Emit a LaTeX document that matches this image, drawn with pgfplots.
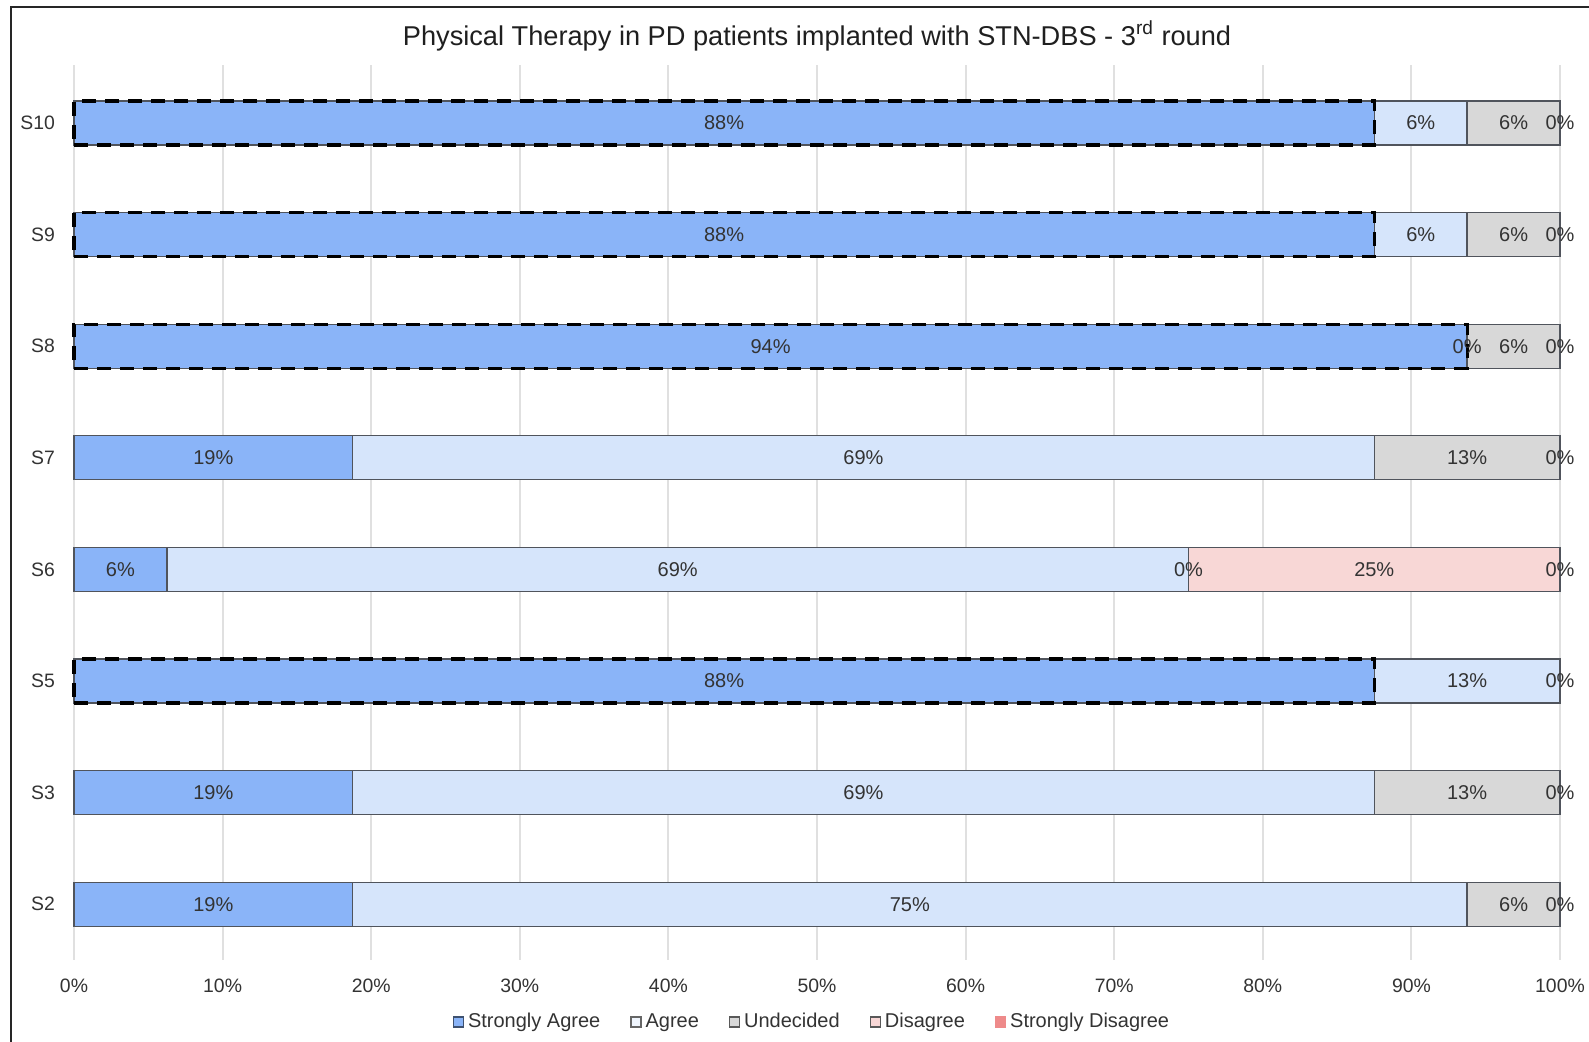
\documentclass[border=0pt]{standalone}
\usepackage{pgfplots}
\usepackage{pgfplotstable}
\pgfplotsset{compat=1.18}
\usepackage{fontspec}
\setmainfont{Liberation Sans}

\definecolor{saFill}{HTML}{8AB4F8}
\definecolor{agFill}{HTML}{D6E5FB}
\definecolor{unFill}{HTML}{D8D8D8}
\definecolor{diFill}{HTML}{F8D7D6}
\definecolor{sdFill}{HTML}{EE8A8A}
\definecolor{edge}{HTML}{50545C}
\definecolor{txt}{HTML}{333333}

% share of answers per statement (percent of 16 panelists);
% dash = 1 marks statements that reached consensus
\pgfplotstableread{
idx cat sa    ag    un    di sd dash
0   S2  18.75 75    6.25  0  0  0
1   S3  18.75 68.75 12.5  0  0  0
2   S5  87.5  12.5  0     0  0  1
3   S6  6.25  68.75 0     25 0  0
4   S7  18.75 68.75 12.5  0  0  0
5   S8  93.75 0     6.25  0  0  1
6   S9  87.5  6.25  6.25  0  0  1
7   S10 87.5  6.25  6.25  0  0  1
}\survey

\pgfplotsset{
  seg/.style={xbar, bar width=22pt, bar shift=0pt, draw=edge, line width=0.65pt, forget plot},
  lbl/.style={only marks, mark=none, forget plot, point meta=explicit,
    nodes near coords={\pgfmathprintnumber[fixed,precision=0]{\pgfplotspointmeta}\%},
    nodes near coords style={anchor=center, font=\fontsize{10}{12}\selectfont, text=txt}},
}

\begin{document}
\begin{tikzpicture}
\useasboundingbox (0pt,0pt) rectangle (794.5pt,-520.5pt);
\draw[line width=1pt, black!85] (5.5pt,-530pt) -- (5.5pt,-3.5pt) -- (805pt,-3.5pt);
\begin{axis}[
  at={(37pt,-480pt)}, anchor=south west,
  scale only axis, width=743pt, height=447.5pt,
  xmin=0, xmax=100, ymin=-0.5, ymax=7.52,
  clip=false,
  axis line style={draw=none},
  major tick length=0pt,
  xtick={0,10,...,100},
  xticklabel={\pgfmathprintnumber{\tick}\%},
  /pgf/number format/assume math mode=true,
  ytick={0,...,7},
  yticklabels from table={\survey}{cat},
  xmajorgrids,
  major grid style={draw=black!12, line width=1pt},
  ticklabel style={font=\fontsize{9.7}{11}\selectfont, text=txt},
  xticklabel style={yshift=-6pt},
  yticklabel style={xshift=-6pt},
  title={Physical Therapy in PD patients implanted with STN-DBS - 3\textsuperscript{rd} round},
  title style={font=\fontsize{13.6}{16}\selectfont, text=black!88, at={(0.5,1)}, anchor=center, yshift=8.5pt},
  legend columns=5,
  legend style={at={(0.5,0)}, anchor=center, yshift=-31pt, xshift=-2pt, draw=none, fill=none,
    font=\fontsize{10}{12}\selectfont, text=txt,
    /tikz/every even column/.append style={column sep=13pt}},
  legend image code/.code={\draw[#1, line width=0.6pt] (0pt,-2.5pt) rectangle (5pt,2.5pt);},
  legend entries={Strongly Agree, Agree, Undecided, Disagree, Strongly Disagree},
]
\addlegendimage{fill=saFill, draw=saFill!45!black}
\addlegendimage{fill=agFill!40!white, draw=black!60}
\addlegendimage{fill=unFill, draw=black!65}
\addlegendimage{fill=diFill, draw=black!65}
\addlegendimage{fill=sdFill, draw=sdFill}

% segments painted back to front, each from 0 to its cumulative share
\addplot[seg, fill=sdFill] table[x expr=\thisrow{sa}+\thisrow{ag}+\thisrow{un}+\thisrow{di}+\thisrow{sd}, y=idx]{\survey};
\addplot[seg, fill=diFill] table[x expr=\thisrow{sa}+\thisrow{ag}+\thisrow{un}+\thisrow{di}, y=idx]{\survey};
\addplot[seg, fill=unFill] table[x expr=\thisrow{sa}+\thisrow{ag}+\thisrow{un}, y=idx]{\survey};
\addplot[seg, fill=agFill] table[x expr=\thisrow{sa}+\thisrow{ag}, y=idx]{\survey};
\addplot[seg, fill=saFill] table[x=sa, y=idx]{\survey};

% dashed frame around the consensus bars
\addplot[xbar, bar width=22pt, bar shift=0pt, fill=none, draw=black, line width=1.6pt,
  dash pattern=on 7pt off 4.5pt, forget plot,
  restrict expr to domain={\thisrow{dash}}{1:1}] table[x=sa, y=idx]{\survey};

% value labels centred in each segment; a zero label that would sit on
% the same spot as a later one at the bar end is left out
\addplot[lbl] table[x expr=\thisrow{sa}/2, y=idx, meta=sa]{\survey};
\addplot[lbl, restrict expr to domain={\thisrow{ag}+\thisrow{un}+\thisrow{di}+\thisrow{sd}}{0.01:1000}]
  table[x expr=\thisrow{sa}+\thisrow{ag}/2, y=idx, meta=ag]{\survey};
\addplot[lbl, restrict expr to domain={\thisrow{un}+\thisrow{di}+\thisrow{sd}}{0.01:1000}]
  table[x expr=\thisrow{sa}+\thisrow{ag}+\thisrow{un}/2, y=idx, meta=un]{\survey};
\addplot[lbl, restrict expr to domain={\thisrow{di}+\thisrow{sd}}{0.01:1000}]
  table[x expr=\thisrow{sa}+\thisrow{ag}+\thisrow{un}+\thisrow{di}/2, y=idx, meta=di]{\survey};
\addplot[lbl] table[x expr=\thisrow{sa}+\thisrow{ag}+\thisrow{un}+\thisrow{di}+\thisrow{sd}/2, y=idx, meta=sd]{\survey};
\end{axis}
\end{tikzpicture}
\end{document}
